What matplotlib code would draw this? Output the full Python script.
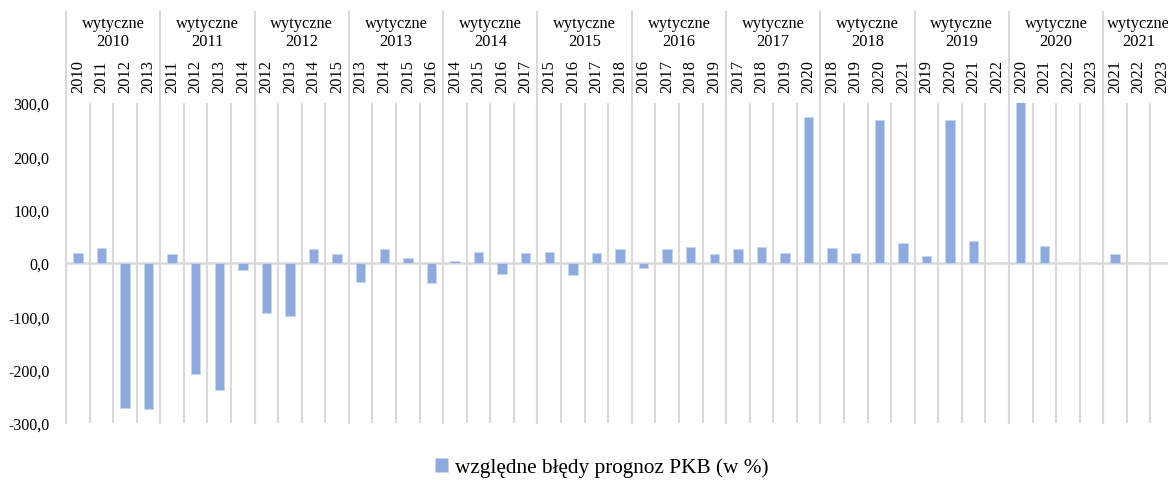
import numpy as np
import matplotlib
matplotlib.use("Agg")
import matplotlib.pyplot as plt
import matplotlib.transforms as mtransforms
from matplotlib.ticker import FuncFormatter

plt.rcParams['font.family'] = ['Liberation Serif', 'DejaVu Serif']

# ---------------- data ----------------
guideline_years = [2010, 2011, 2012, 2013, 2014, 2015, 2016, 2017, 2018, 2019, 2020, 2021]
forecast_years = [
    [2010, 2011, 2012, 2013],
    [2011, 2012, 2013, 2014],
    [2012, 2013, 2014, 2015],
    [2013, 2014, 2015, 2016],
    [2014, 2015, 2016, 2017],
    [2015, 2016, 2017, 2018],
    [2016, 2017, 2018, 2019],
    [2017, 2018, 2019, 2020],
    [2018, 2019, 2020, 2021],
    [2019, 2020, 2021, 2022],
    [2020, 2021, 2022, 2023],
    [2021, 2022, 2023],
]
# relative GDP forecast errors (%), None = no data
errors = [
    [19, 28, -271, -274],
    [17, -209, -238, -14],
    [-93, -100, 27, 17],
    [-36, 27, 9, -38],
    [3, 20, -20, 19],
    [20, -22, 19, 26],
    [-10, 26, 30, 17],
    [26, 30, 19, 273],
    [28, 18, 269, 38],
    [14, 269, 41, None],
    [310, 31, None, None],
    [16, None, None],
]
legend_label = "względne błędy prognoz PKB (w %)"

bar_color = "#8FAADC"
grid_color = "#D9D9D9"

# flatten
sub_labels = [str(y) for grp in forecast_years for y in grp]
values = np.array([np.nan if v is None else v for grp in errors for v in grp], dtype=float)
x = np.arange(len(values))

fig = plt.figure(figsize=(11.68, 4.81), dpi=100)
W, H = 1168, 481
left_px, right_px, top_px, bot_px = 66, 1174, 104, 424
ax = fig.add_axes([left_px / W, 1 - bot_px / H, (right_px - left_px) / W, (bot_px - top_px) / H])

ax.bar(x, values, width=0.4, color=bar_color, edgecolor="#C9D6EF", linewidth=0.6,
       label=legend_label, zorder=3)

ax.set_xlim(-0.5, len(values) - 0.5)
ax.set_ylim(-300, 300)
ax.set_yticks([-300, -200, -100, 0, 100, 200, 300])
ax.yaxis.set_major_formatter(FuncFormatter(lambda v, p: f"{v:.1f}".replace(".", ",")))
ax.tick_params(axis="y", length=0, labelsize=11.5, pad=12)

# category boundary gridlines
ax.set_xticks(np.arange(-0.5, len(values), 1), minor=True)
ax.grid(which="minor", axis="x", color=grid_color, linewidth=1.5, zorder=1)
ax.axhline(0, color=grid_color, linewidth=1.8, zorder=2)

# sub-year labels at top
ax.xaxis.tick_top()
ax.set_xticks(x)
ax.set_xticklabels(sub_labels, rotation=90, fontsize=11.8)
ax.tick_params(axis="x", which="both", length=0, pad=8)

for s in ax.spines.values():
    s.set_visible(False)

# group labels and separators
trans = mtransforms.blended_transform_factory(ax.transData, ax.transAxes)
top_frac = 1 + (top_px - 13) / (bot_px - top_px)
start = 0
for gy, grp in zip(guideline_years, forecast_years):
    n = len(grp)
    ax.plot([start - 0.5, start - 0.5], [0, top_frac], transform=trans, color=grid_color,
            linewidth=1.5, clip_on=False, zorder=1)
    ax.text(start + (n - 1) / 2, 1 + (top_px - 33) / (bot_px - top_px), f"wytyczne\n{gy}",
            transform=trans, ha="center", va="center", fontsize=11.8, linespacing=1.1)
    start += n

fig.legend(loc="center", bbox_to_anchor=(0.515, 0.026), frameon=False, fontsize=15.3,
           handlelength=0.65, handleheight=0.65, handletextpad=0.3)

fig.savefig("out.png", dpi=100)
